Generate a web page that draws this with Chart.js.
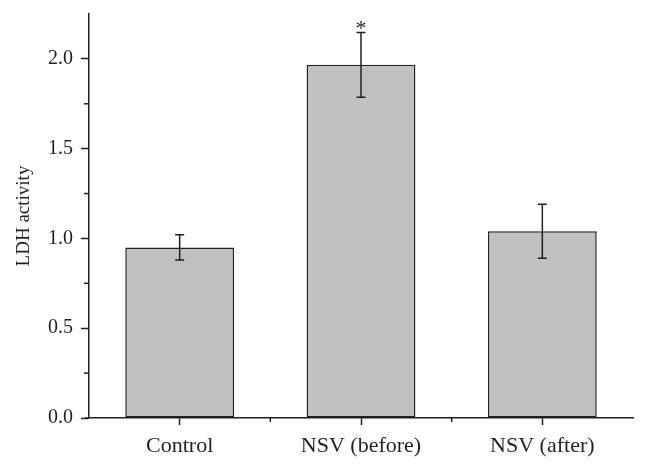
<!DOCTYPE html>
<html>
<head>
<meta charset="utf-8">
<script src="https://cdn.jsdelivr.net/npm/chart.js@4.4.0/dist/chart.umd.min.js"></script>
<style>
  html, body { margin: 0; padding: 0; background: #fff; }
  #wrap { width: 648px; height: 471px; }
</style>
</head>
<body>
<div id="wrap"><canvas id="ldhChart"></canvas></div>
<script>
// Datos del grafico
const categories = ['Control', 'NSV (before)', 'NSV (after)'];
const ldhValues = [0.95, 1.967, 1.04];
const ldhErrors = [0.07, 0.18, 0.15];
const significance = ['', '*', ''];
const yTicks = [0, 0.5, 1.0, 1.5, 2.0];

const INK = '#231f20';
const FONT = "'Liberation Serif', 'DejaVu Serif', serif";

// Barras de error, marcas menores y asterisco
const extrasPlugin = {
    id: 'extras',
    afterDatasetsDraw(chart) {
        const ctx = chart.ctx;
        const x = chart.scales.x;
        const y = chart.scales.y;
        ctx.save();
        ctx.strokeStyle = INK;
        ctx.lineWidth = 1.5;

        // barras de error
        ldhValues.forEach((v, i) => {
            const px = x.getPixelForValue(i);
            const top = y.getPixelForValue(v + ldhErrors[i]);
            const bot = y.getPixelForValue(v - ldhErrors[i]);
            ctx.beginPath();
            ctx.moveTo(px, top); ctx.lineTo(px, bot);
            ctx.moveTo(px - 4.5, top); ctx.lineTo(px + 4.5, top);
            ctx.moveTo(px - 4.5, bot); ctx.lineTo(px + 4.5, bot);
            ctx.stroke();
            if (significance[i]) {
                ctx.fillStyle = INK;
                ctx.font = '22px ' + FONT;
                ctx.textAlign = 'center';
                ctx.textBaseline = 'alphabetic';
                ctx.fillText(significance[i], px, top + 3);
            }
        });

        // marcas menores del eje y
        for (let t = 0.25; t < y.max; t += 0.5) {
            const py = y.getPixelForValue(t);
            ctx.beginPath();
            ctx.moveTo(y.right - 5, py); ctx.lineTo(y.right, py);
            ctx.stroke();
        }
        // marcas menores del eje x (entre categorias)
        for (let i = 0; i < categories.length - 1; i++) {
            const px = (x.getPixelForValue(i) + x.getPixelForValue(i + 1)) / 2;
            ctx.beginPath();
            ctx.moveTo(px, x.top); ctx.lineTo(px, x.top + 4);
            ctx.stroke();
        }
        // prolongar el eje x a la izquierda
        ctx.beginPath();
        ctx.moveTo(x.left - 4, x.top); ctx.lineTo(x.left, x.top);
        ctx.stroke();
        ctx.restore();
    }
};

new Chart(document.getElementById('ldhChart'), {
    type: 'bar',
    data: {
        labels: categories,
        datasets: [{
            label: 'LDH activity',
            data: ldhValues,
            backgroundColor: '#c0c0c0',
            borderColor: INK,
            borderWidth: 1.5,
            borderSkipped: false,
            barPercentage: 0.6,
            categoryPercentage: 1.0
        }]
    },
    options: {
        responsive: true,
        maintainAspectRatio: false,
        animation: false,
        layout: { padding: { top: 14, right: 15, left: 0, bottom: 0 } },
        plugins: {
            legend: { display: false },
            tooltip: { enabled: false }
        },
        scales: {
            x: {
                offset: true,
                grid: {
                    offset: false,
                    drawOnChartArea: false,
                    tickLength: 7,
                    tickWidth: 1.5,
                    tickColor: INK
                },
                border: { color: INK, width: 1.5 },
                ticks: {
                    color: INK,
                    padding: 8,
                    font: { family: FONT, size: 22 }
                },
                afterFit(scale) {
                    scale.height = 53;
                    scale.paddingLeft = 0;
                    scale.paddingRight = 0;
                }
            },
            y: {
                min: 0,
                max: 2.25,
                afterBuildTicks(scale) {
                    scale.ticks = yTicks.map(v => ({ value: v }));
                },
                grid: {
                    drawOnChartArea: false,
                    tickLength: 8,
                    tickWidth: 1.5,
                    tickColor: INK
                },
                border: { color: INK, width: 1.5 },
                ticks: {
                    color: INK,
                    padding: 8,
                    font: { family: FONT, size: 20 },
                    callback: v => v.toFixed(1)
                },
                title: {
                    display: true,
                    text: 'LDH activity',
                    color: INK,
                    font: { family: FONT, size: 19 },
                    padding: { top: 13, bottom: 0 }
                },
                afterFit(scale) {
                    scale.width = 89;
                    scale.paddingTop = 0;
                    scale.paddingBottom = 0;
                }
            }
        }
    },
    plugins: [extrasPlugin]
});
</script>
</body>
</html>
